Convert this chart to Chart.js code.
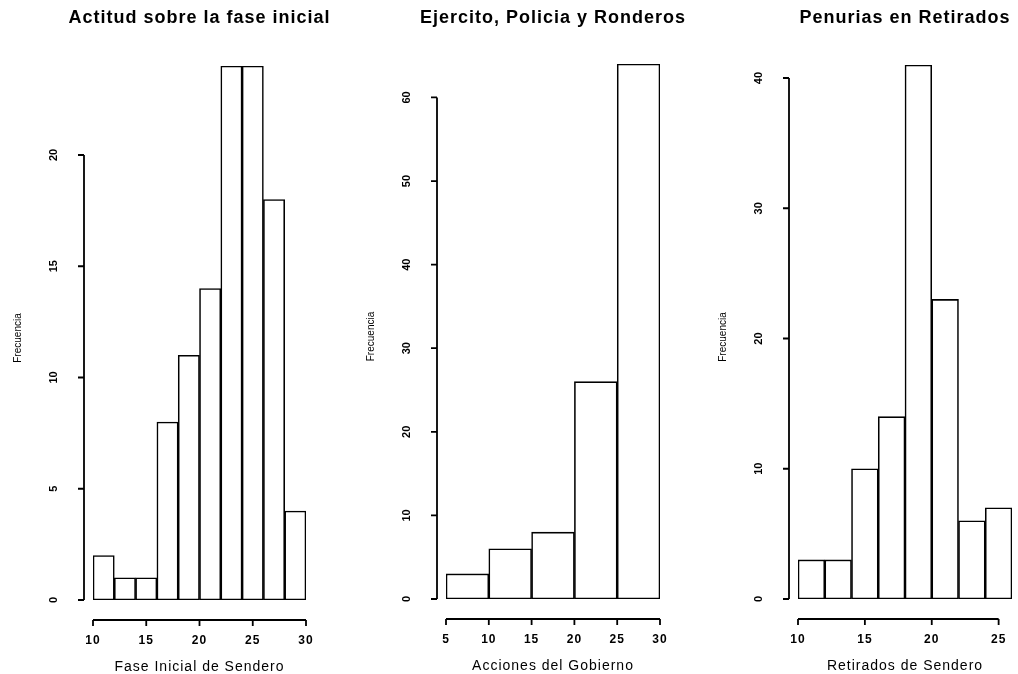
<!DOCTYPE html>
<html>
<head>
<meta charset="utf-8">
<script src="https://cdn.jsdelivr.net/npm/chart.js@4.4.1/dist/chart.umd.min.js"></script>
<style>
html,body{margin:0;padding:0;background:#fff;}
#wrap{position:relative;width:1018px;height:674px;overflow:hidden;background:#fff;}
canvas{position:absolute;top:0;left:0;}
</style>
</head>
<body>
<div id="wrap">
<canvas id="c1" width="1018" height="674"></canvas>
<canvas id="c2" width="1018" height="674"></canvas>
<canvas id="c3" width="1018" height="674"></canvas>
</div>
<script>
// ---- data ----
const titles = ["Actitud sobre la fase inicial", "Ejercito, Policia y Ronderos", "Penurias en Retirados"];
const xTitles = ["Fase Inicial de Sendero", "Acciones del Gobierno", "Retirados de Sendero"];
const yTitle = "Frecuencia";

const binEdges1 = [10, 12, 14, 16, 18, 20, 22, 24, 26, 28, 30];
const counts1 = [2, 1, 1, 8, 11, 14, 24, 24, 18, 4];
const xTicks1 = [10, 15, 20, 25, 30];
const yTicks1 = [0, 5, 10, 15, 20];

const binEdges2 = [5, 10, 15, 20, 25, 30];
const counts2 = [3, 6, 8, 26, 64];
const xTicks2 = [5, 10, 15, 20, 25, 30];
const yTicks2 = [0, 10, 20, 30, 40, 50, 60];

const binEdges3 = [10, 12, 14, 16, 18, 20, 22, 24, 26];
const counts3 = [3, 3, 10, 14, 41, 23, 6, 7];
const xTicks3 = [10, 15, 20, 25];
const yTicks3 = [0, 10, 20, 30, 40];

// ---- R-style axes plugin ----
const FONT = '"Liberation Sans", Arial, Helvetica, sans-serif';
const rAxes = {
  id: 'rAxes',
  afterDraw(chart, args, o) {
    const ctx = chart.ctx, xs = chart.scales.x, ys = chart.scales.y, ca = chart.chartArea;
    ctx.save();
    ctx.strokeStyle = '#000';
    ctx.fillStyle = '#000';
    ctx.lineWidth = 1.8;
    // x axis
    const ay = ca.bottom + o.xGap;
    const xt = o.xTicks;
    ctx.beginPath();
    ctx.moveTo(xs.getPixelForValue(xt[0]), ay);
    ctx.lineTo(xs.getPixelForValue(xt[xt.length - 1]), ay);
    xt.forEach(v => { const p = xs.getPixelForValue(v); ctx.moveTo(p, ay); ctx.lineTo(p, ay + 6); });
    ctx.stroke();
    ctx.font = 'bold 12px ' + FONT;
    ctx.letterSpacing = '1px';
    ctx.textAlign = 'center';
    ctx.textBaseline = 'middle';
    xt.forEach(v => ctx.fillText(String(v), xs.getPixelForValue(v), ay + 21));
    // x title
    ctx.font = '14px ' + FONT;
    ctx.fillText(o.xTitle, (ca.left + ca.right) / 2, ay + 47);
    // y axis
    const ax = ca.left - o.yGap;
    const yt = o.yTicks;
    ctx.beginPath();
    ctx.moveTo(ax, ys.getPixelForValue(yt[0]));
    ctx.lineTo(ax, ys.getPixelForValue(yt[yt.length - 1]));
    yt.forEach(v => { const p = ys.getPixelForValue(v); ctx.moveTo(ax, p); ctx.lineTo(ax - 6, p); });
    ctx.stroke();
    ctx.font = 'bold 11px ' + FONT;
    ctx.letterSpacing = '0px';
    yt.forEach(v => {
      ctx.save();
      ctx.translate(ax - 30, ys.getPixelForValue(v));
      ctx.rotate(-Math.PI / 2);
      ctx.fillText(String(v), 0, 0);
      ctx.restore();
    });
    // y title
    ctx.font = '10px ' + FONT;
    ctx.save();
    ctx.translate(ax - 66, (ca.top + ca.bottom) / 2 + 5);
    ctx.rotate(-Math.PI / 2);
    ctx.fillText(o.yTitle, 0, 0);
    ctx.restore();
    // main title
    ctx.font = 'bold 18px ' + FONT;
    ctx.letterSpacing = '1px';
    ctx.fillText(o.title, (ca.left + ca.right) / 2, 18);
    ctx.restore();
  }
};

function makeHist(id, edges, counts, xTicks, yTicks, yMax, title, xTitle, pad) {
  const centers = counts.map((c, i) => ({ x: (edges[i] + edges[i + 1]) / 2, y: c }));
  return new Chart(document.getElementById(id), {
    type: 'bar',
    data: {
      datasets: [{
        data: centers,
        backgroundColor: 'rgba(255,255,255,1)',
        borderColor: '#000000',
        borderWidth: 1.6,
        borderSkipped: false,
        barPercentage: 1,
        categoryPercentage: 1
      }]
    },
    options: {
      responsive: false,
      animation: false,
      layout: { padding: pad },
      plugins: {
        legend: { display: false },
        tooltip: { enabled: false },
        title: { display: false },
        rAxes: { xTicks, yTicks, title, xTitle, yTitle, xGap: 20, yGap: 9 }
      },
      scales: {
        x: {
          type: 'linear', display: false, offset: false,
          min: edges[0], max: edges[edges.length - 1],
          afterBuildTicks: s => { s.ticks = edges.map(v => ({ value: v })); }
        },
        y: {
          type: 'linear', display: false,
          min: 0, max: yMax,
          afterBuildTicks: s => { s.ticks = yTicks.map(v => ({ value: v })); }
        }
      }
    },
    plugins: [rAxes]
  });
}

makeHist('c1', binEdges1, counts1, xTicks1, yTicks1, 24, titles[0], xTitles[0],
  { left: 93, right: 712, top: 66, bottom: 74 });
makeHist('c2', binEdges2, counts2, xTicks2, yTicks2, 64, titles[1], xTitles[1],
  { left: 446, right: 358, top: 64, bottom: 75 });
makeHist('c3', binEdges3, counts3, xTicks3, yTicks3, 41, titles[2], xTitles[2],
  { left: 798, right: 6, top: 65, bottom: 75 });
</script>
</body>
</html>
